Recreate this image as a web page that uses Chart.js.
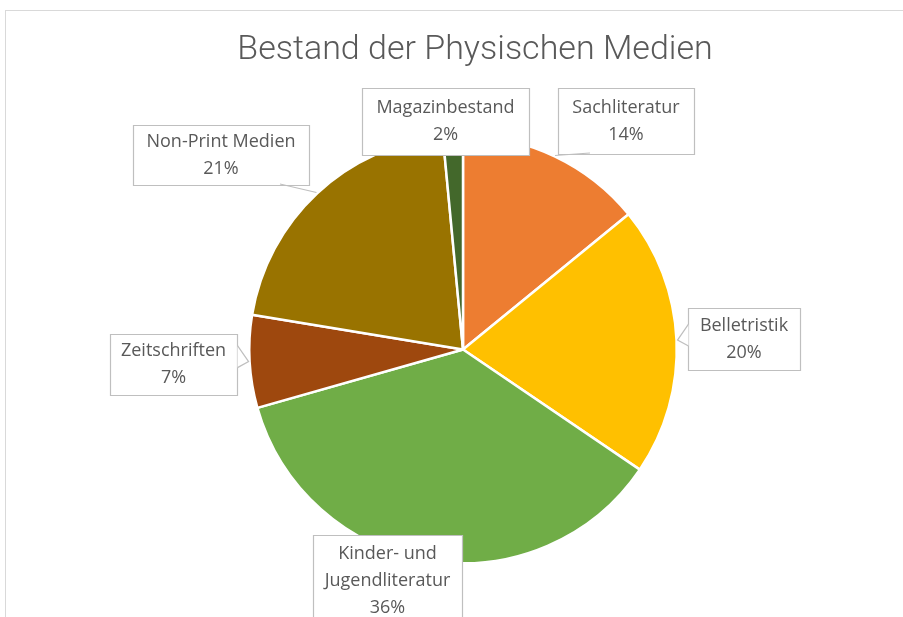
<!DOCTYPE html>
<html>
<head>
<meta charset="utf-8">
<script src="https://cdn.jsdelivr.net/npm/chart.js@4"></script>
<style>
  html, body { margin: 0; padding: 0; background: #fff; }
  #wrap { width: 903px; height: 617px; }
</style>
</head>
<body>
<div id="wrap"><canvas id="myChart"></canvas></div>
<script>
const kategorien = ['Sachliteratur', 'Belletristik', 'Kinder- und Jugendliteratur', 'Zeitschriften', 'Non-Print Medien', 'Magazinbestand'];
const anteile = [14.1, 20.4, 36.1, 7.0, 20.9, 1.5];
const farben = ['#ED7D31', '#FFC000', '#70AD47', '#9E480E', '#997300', '#43682B'];
const beschriftung = [
  ['Sachliteratur'],
  ['Belletristik'],
  ['Kinder- und', 'Jugendliteratur'],
  ['Zeitschriften'],
  ['Non-Print Medien'],
  ['Magazinbestand']
];

// label boxes (x, y, w, h) and how they point to their slice
const boxen = [
  { x: 558, y: 88, w: 136, h: 66, art: 'linie', ax: 590, ay: 153 },
  { x: 688, y: 308, w: 112, h: 62, art: 'keil' },
  { x: 313, y: 535, w: 149, h: 92, art: 'keine' },
  { x: 110, y: 334, w: 127, h: 61, art: 'keil' },
  { x: 133, y: 125, w: 176, h: 60, art: 'linie', ax: 280, ay: 184 },
  { x: 362, y: 88, w: 167, h: 67, art: 'keine' }
];

const rahmenUndText = {
  id: 'rahmenUndText',
  beforeDraw(chart) {
    const c = chart.ctx;
    c.save();
    c.strokeStyle = '#d9d9d9';
    c.lineWidth = 1;
    c.strokeRect(5.5, 10.5, 1200, 1200);
    c.fillStyle = '#595959';
    c.font = '300 34px Roboto, "Liberation Sans", sans-serif';
    c.textAlign = 'center';
    c.textBaseline = 'middle';
    c.fillText('Bestand der Physischen Medien', 475, 50);
    c.restore();
  },
  afterDatasetsDraw(chart) {
    const c = chart.ctx;
    const meta = chart.getDatasetMeta(0);
    c.save();
    meta.data.forEach((arc, i) => {
      const b = boxen[i];
      const mitte = (arc.startAngle + arc.endAngle) / 2;
      const tx = arc.x + Math.cos(mitte) * (arc.outerRadius + 1);
      const ty = arc.y + Math.sin(mitte) * (arc.outerRadius + 1);
      c.strokeStyle = '#bfbfbf';
      c.lineWidth = 1.2;
      c.fillStyle = '#ffffff';
      c.beginPath();
      c.rect(b.x + 0.5, b.y + 0.5, b.w, b.h);
      c.fill();
      c.stroke();
      if (b.art === 'linie') {
        c.beginPath();
        c.moveTo(b.ax, b.ay);
        c.lineTo(tx, ty);
        c.stroke();
      } else if (b.art === 'keil') {
        const seite = tx > b.x + b.w ? b.x + b.w + 0.5 : b.x + 0.5;
        const y1 = Math.max(b.y + 2, ty - 16);
        const y2 = Math.min(b.y + b.h - 2, ty + 6);
        c.beginPath();
        c.moveTo(seite, y1);
        c.lineTo(tx, ty);
        c.lineTo(seite, y2);
        c.closePath();
        c.fill();
        c.beginPath();
        c.moveTo(seite, y1);
        c.lineTo(tx, ty);
        c.lineTo(seite, y2);
        c.stroke();
      }
      const zeilen = beschriftung[i].concat([Math.round(anteile[i]) + '%']);
      c.fillStyle = '#595959';
      c.font = '18px "Open Sans", "Liberation Sans", sans-serif';
      c.textAlign = 'center';
      c.textBaseline = 'middle';
      const cy = b.y + b.h / 2;
      const lh = 27;
      zeilen.forEach((z, k) => {
        c.fillText(z, b.x + b.w / 2, cy + (k - (zeilen.length - 1) / 2) * lh);
      });
    });
    c.restore();
  }
};

new Chart(document.getElementById('myChart'), {
  type: 'pie',
  data: {
    labels: kategorien,
    datasets: [{
      data: anteile,
      backgroundColor: farben,
      borderColor: '#ffffff',
      borderWidth: 2.5
    }]
  },
  options: {
    responsive: true,
    maintainAspectRatio: false,
    animation: false,
    layout: { padding: { top: 134, bottom: 52, left: 248, right: 225 } },
    plugins: {
      legend: { display: false },
      title: { display: false },
      tooltip: { enabled: false }
    }
  },
  plugins: [rahmenUndText]
});
</script>
</body>
</html>
